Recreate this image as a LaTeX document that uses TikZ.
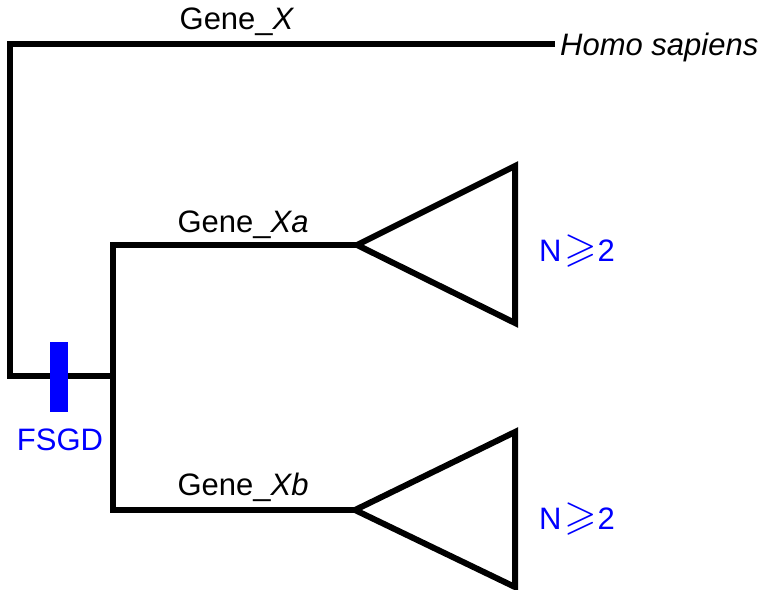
\documentclass[tikz,border=0pt]{standalone}
\usepackage{amssymb}
\usepackage{graphicx}
\usepackage{fontspec}
\setmainfont{Liberation Sans}
\newcommand{\bigge}{\hspace{3pt}\scalebox{1.35}{$\geqslant$}\hspace{0.5pt}}
\begin{document}
\begin{tikzpicture}[x=1pt,y=-1pt,
  branch/.style={line width=6pt,line join=miter,line cap=rect},
  clade/.style={line width=6pt,line join=miter},
  lbl/.style={font=\fontsize{31}{36}\selectfont,inner sep=0pt},
  blu/.style={lbl,text={rgb,255:red,0;green,0;blue,255}}]
\useasboundingbox (0,0) rectangle (767,589);
\coordinate (root) at (10,376);
\coordinate (topL) at (10,44);
\coordinate (hs) at (552,44);
\coordinate (dup) at (113,376);
\coordinate (dupA) at (113,245);
\coordinate (dupB) at (113,510);
\coordinate (tipA) at (357,245);
\coordinate (tipB) at (355,510);
\draw[branch] (hs) -- (topL) -- (root) -- (dup);
\draw[branch] (tipA) -- (dupA) -- (dupB) -- (tipB);
\draw[clade] (tipA) -- (515,166) -- (515,323) -- cycle;
\draw[clade] (tipB) -- (515,432) -- (515,587) -- cycle;
\fill[fill={rgb,255:red,0;green,0;blue,255}] (50,342) rectangle (68,412);
\node[lbl] (gx) at (237,22) {Gene\_\textit{X}};
\node[lbl,anchor=west] (homo) at (560,47) {\textit{Homo sapiens}};
\node[lbl] (gxa) at (243,225) {Gene\_\textit{Xa}};
\node[lbl] (gxb) at (243,487) {Gene\_\textit{Xb}};
\node[blu] (fsgd) at (60,440) {FSGD};
\node[blu,anchor=west] (na) at (539,251) {N\bigge 2};
\node[blu,anchor=west] (nb) at (539,519) {N\bigge 2};
\end{tikzpicture}
\end{document}
